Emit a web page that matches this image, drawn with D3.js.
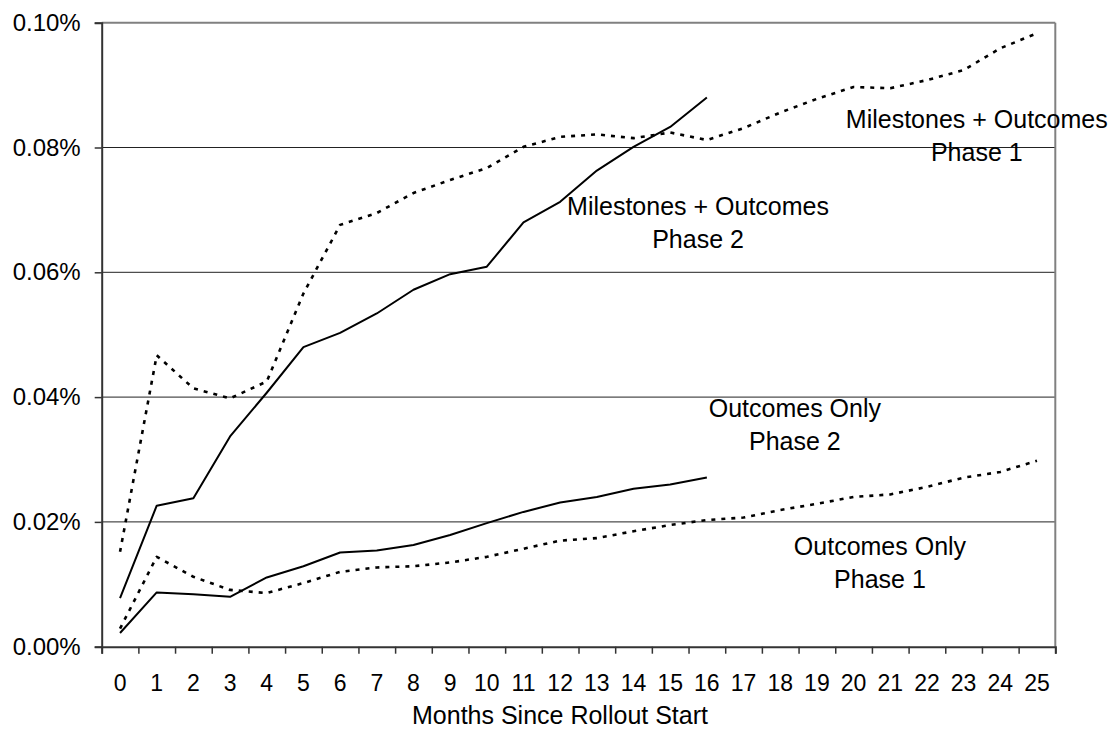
<!DOCTYPE html>
<html>
<head>
<meta charset="utf-8">
<script src="https://cdn.jsdelivr.net/npm/d3@7"></script>
<style>
  html, body { margin: 0; padding: 0; background: #fff; }
  svg { display: block; font-family: Arial, "Liberation Sans", sans-serif; }
</style>
</head>
<body>
<svg id="chart" width="1113" height="730"></svg>
<script>
// ---- data ----
const months = [0,1,2,3,4,5,6,7,8,9,10,11,12,13,14,15,16,17,18,19,20,21,22,23,24,25];
const yTicks = [0, 0.02, 0.04, 0.06, 0.08, 0.10];
const xTitle = "Months Since Rollout Start";

const milestonesPhase1 = [0.0152,0.0467,0.0414,0.0398,0.0425,0.0566,0.0676,0.0695,0.0727,0.0748,0.0767,0.0801,0.0817,0.0821,0.0815,0.0824,0.0812,0.0831,0.0856,0.0878,0.0897,0.0895,0.0908,0.0924,0.0959,0.0983];
const milestonesPhase2 = [0.0078,0.0226,0.0238,0.0337,0.0407,0.0480,0.0503,0.0534,0.0572,0.0597,0.0609,0.0680,0.0713,0.0763,0.0801,0.0833,0.0880];
const outcomesPhase1   = [0.0029,0.0144,0.0112,0.0091,0.0086,0.0102,0.0120,0.0127,0.0129,0.0135,0.0144,0.0157,0.0170,0.0174,0.0185,0.0195,0.0203,0.0207,0.0219,0.0229,0.0240,0.0244,0.0256,0.0271,0.0280,0.0298];
const outcomesPhase2   = [0.0022,0.0087,0.0084,0.0080,0.0111,0.0129,0.0151,0.0154,0.0163,0.0179,0.0198,0.0216,0.0231,0.0240,0.0253,0.0260,0.0271];

const seriesNames = ["Milestones + Outcomes Phase 1","Milestones + Outcomes Phase 2","Outcomes Only Phase 1","Outcomes Only Phase 2"];
const annotationLines = [
  ["Milestones + Outcomes", "Phase 2"],
  ["Milestones + Outcomes", "Phase 1"],
  ["Outcomes Only", "Phase 2"],
  ["Outcomes Only", "Phase 1"]
];

// ---- layout ----
const W = 1113, H = 730;
const margin = {left: 101.7, top: 22.7, right: 57.7, bottom: 83.3};
const iw = W - margin.left - margin.right;
const ih = H - margin.top - margin.bottom;

const svg = d3.select("#chart");
const g = svg.append("g").attr("transform", `translate(${margin.left},${margin.top})`);

const x = d3.scaleBand().domain(months).range([0, iw]).paddingInner(0).paddingOuter(0);
const xc = d3.scaleLinear().domain([-0.5, 25.5]).range([0, iw]);
const xEdge = d3.scaleLinear().domain([0, months.length]).range([0, iw]);
const y = d3.scaleLinear().domain([0, 0.10]).range([ih, 0]);

// gridlines
g.append("g").selectAll("line")
  .data(yTicks.filter(d => d > 0 && d < 0.10))
  .join("line")
  .attr("x1", 0).attr("x2", iw)
  .attr("y1", d => y(d)).attr("y2", d => y(d))
  .attr("stroke", "#222").attr("stroke-width", 1);

// plot border top & right (gray)
g.append("line").attr("x1", 0).attr("x2", iw).attr("y1", 0).attr("y2", 0)
  .attr("stroke", "#808080").attr("stroke-width", 2);
g.append("line").attr("x1", iw).attr("x2", iw).attr("y1", 0).attr("y2", ih)
  .attr("stroke", "#808080").attr("stroke-width", 2);

// y axis
const yAxis = g.append("g")
  .call(d3.axisLeft(y).tickValues(yTicks).tickFormat(d => d.toFixed(2) + "%").tickSize(7).tickPadding(14));
yAxis.select(".domain").attr("stroke", "#333").attr("stroke-width", 2);
yAxis.selectAll(".tick line").attr("stroke", "#333").attr("stroke-width", 1.5);
yAxis.selectAll(".tick text").attr("font-size", 24).attr("fill", "#000")
  .attr("font-family", "Arial, 'Liberation Sans', sans-serif");

// x axis tick marks (at category boundaries)
const xTickAxis = g.append("g").attr("transform", `translate(0,${ih})`)
  .call(d3.axisBottom(xEdge).tickValues(d3.range(0, months.length + 1)).tickFormat("").tickSize(7));
xTickAxis.select(".domain").attr("stroke", "#333").attr("stroke-width", 2);
xTickAxis.selectAll(".tick line").attr("stroke", "#333").attr("stroke-width", 1.5);

// x axis labels
const xLab = g.append("g").attr("transform", `translate(0,${ih})`)
  .call(d3.axisBottom(x).tickSize(0).tickPadding(28));
xLab.select(".domain").remove();
xLab.selectAll(".tick text").attr("font-size", 23).attr("fill", "#000")
  .attr("font-family", "Arial, 'Liberation Sans', sans-serif");

// x title
svg.append("text")
  .attr("x", 560).attr("y", H - 6)
  .attr("text-anchor", "middle")
  .attr("font-size", 25)
  .attr("fill", "#000")
  .text(xTitle);

// lines
const line = d3.line()
  .x((d, i) => x(months[i]) + x.bandwidth() / 2)
  .y(d => y(d));

const series = [
  {name: seriesNames[0], values: milestonesPhase1, dash: "4,6", w: 2.6},
  {name: seriesNames[1], values: milestonesPhase2, dash: null, w: 2},
  {name: seriesNames[2], values: outcomesPhase1, dash: "4,6", w: 2.6},
  {name: seriesNames[3], values: outcomesPhase2, dash: null, w: 2}
];

g.append("g").selectAll("path")
  .data(series)
  .join("path")
  .attr("d", d => line(d.values))
  .attr("fill", "none")
  .attr("stroke", "#000")
  .attr("stroke-width", d => d.w)
  .attr("stroke-dasharray", d => d.dash)
  .attr("stroke-linejoin", "round");

// annotations (anchored in data units)
const annotations = [
  {lines: annotationLines[0], m: 15.76, v: 0.0692},
  {lines: annotationLines[1], m: 23.36, v: 0.0831},
  {lines: annotationLines[2], m: 18.40, v: 0.0368},
  {lines: annotationLines[3], m: 20.72, v: 0.0147}
];

const ann = g.append("g").selectAll("text")
  .data(annotations)
  .join("text")
  .attr("text-anchor", "middle")
  .attr("font-size", 25)
  .attr("fill", "#000")
  .attr("x", d => xc(d.m))
  .attr("y", d => y(d.v));
ann.selectAll("tspan")
  .data(d => d.lines.map((t, i) => ({t, i, x: xc(d.m)})))
  .join("tspan")
  .attr("x", d => d.x)
  .attr("dy", d => d.i === 0 ? 0 : 33)
  .text(d => d.t);
</script>
</body>
</html>
